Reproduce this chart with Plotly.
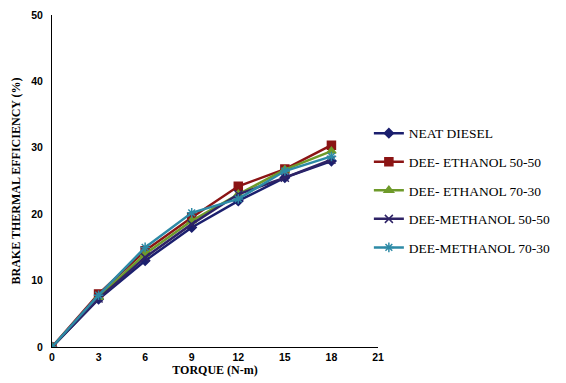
import plotly.graph_objects as go

torque = [0, 3, 6, 9, 12, 15, 18]
neat_diesel = [0, 7.2, 13.0, 18.0, 22.0, 25.5, 28.0]
dee_eth_5050 = [0, 8.0, 14.5, 19.5, 24.2, 26.8, 30.4]
dee_eth_7030 = [0, 7.5, 14.0, 19.0, 23.0, 26.7, 29.5]
dee_meth_5050 = [0, 7.3, 13.5, 18.5, 23.0, 25.5, 28.2]
dee_meth_7030 = [0, 7.8, 15.0, 20.2, 22.3, 26.5, 28.7]

series = [
    ("NEAT DIESEL", neat_diesel, "#1B1F6E", "diamond", 7),
    ("DEE- ETHANOL 50-50", dee_eth_5050, "#8B1414", "square", 8),
    ("DEE- ETHANOL 70-30", dee_eth_7030, "#6E9A2A", "triangle-up", 8),
    ("DEE-METHANOL 50-50", dee_meth_5050, "#2E2366", "x-thin-open", 8),
    ("DEE-METHANOL 70-30", dee_meth_7030, "#2D8AA6", "asterisk-open", 8),
]

fig = go.Figure()
for i, (name, vals, color, sym, sz) in enumerate(series):
    fig.add_trace(go.Scatter(
        x=torque, y=vals, name=name, mode="lines+markers",
        line=dict(color=color, width=2.5),
        marker=dict(symbol=sym, size=sz, color=color, line=dict(color=color, width=1.5)),
        legendgroup=str(i),
    ))

fig.update_layout(
    width=558, height=375,
    margin=dict(l=44, r=188, t=7, b=36, autoexpand=False),
    paper_bgcolor="white", plot_bgcolor="white",
    showlegend=True,
    legend=dict(x=0.972, y=0.69, xanchor="left", yanchor="top",
                font=dict(family="Liberation Serif", size=13.5, color="black"),
                tracegroupgap=8, itemwidth=30),
    xaxis=dict(range=[0, 21], tickvals=[0, 3, 6, 9, 12, 15, 18, 21],
               showgrid=False, zeroline=False, showline=True, linecolor="black",
               linewidth=1, ticks="", ticklen=0, automargin=False,
               tickfont=dict(family="Liberation Sans", size=10.5, color="black", weight="bold"),
               title=dict(text="<b>TORQUE (N-m)</b>", standoff=3,
                          font=dict(family="Liberation Serif", size=12, color="black"))),
    yaxis=dict(range=[0, 50], tickvals=[0, 10, 20, 30, 40, 50],
               showgrid=False, zeroline=False, showline=True, linecolor="black",
               linewidth=1, ticks="outside", ticklen=6, tickcolor="white",
               automargin=False,
               tickfont=dict(family="Liberation Sans", size=10.5, color="black", weight="bold"),
               title=dict(text="<b>BRAKE THERMAL EFFICIENCY (%)</b>", standoff=8,
                          font=dict(family="Liberation Serif", size=12, color="black"))),
)

fig.write_html("out.html")
